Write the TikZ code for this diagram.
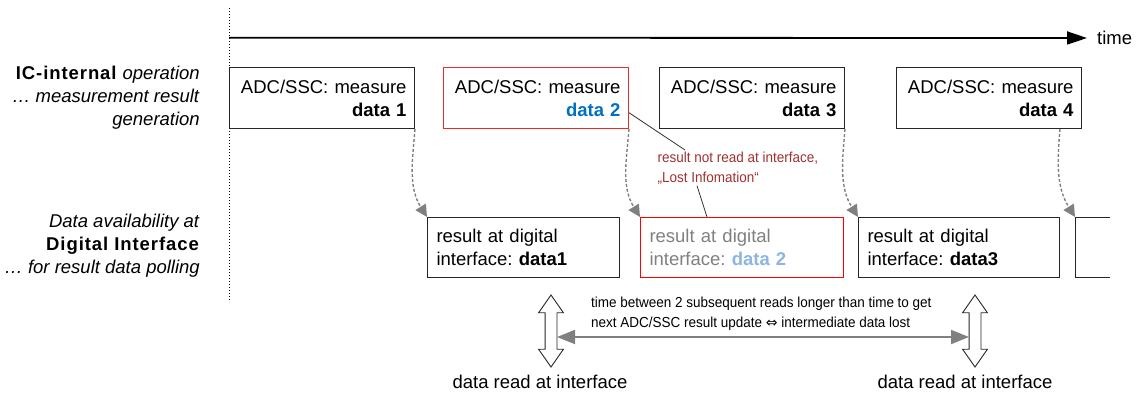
\documentclass[tikz,border=0pt]{standalone}
\usepackage{fontspec}
\setmainfont{Liberation Sans}
\newfontfamily\narrowfont[FakeStretch=0.93]{Liberation Sans}
\newfontfamily\symbfont{DejaVu Sans}
\usetikzlibrary{arrows.meta,shapes.arrows}
\frenchspacing

\definecolor{lostred}{RGB}{236,40,40}
\definecolor{lostbrown}{RGB}{160,48,48}
\definecolor{datablue}{RGB}{0,112,192}
\definecolor{paleblue}{RGB}{141,180,226}
\definecolor{fadegray}{RGB}{128,128,128}

\newcommand{\smalltxt}{\narrowfont\fontsize{14.5}{20}\selectfont}
\newcommand{\wideb}[1]{{\addfontfeature{LetterSpace=5}\textbf{#1}}}

\begin{document}
\begin{tikzpicture}[x=1pt, y=1pt, font=\fontsize{18.5}{23}\selectfont,
  measbox/.style={draw=black!85, line width=1pt, anchor=north west, align=right,
    text width=169pt, inner xsep=8pt, inner ysep=0pt, minimum height=61pt},
  resbox/.style={draw=black!85, line width=1pt, anchor=north west, align=left,
    text width=#1, inner xsep=9pt, inner ysep=0pt, minimum height=60pt},
  polldash/.style={draw=fadegray, line width=1.4pt, dash pattern=on 3pt off 2pt,
    -{Triangle[length=12pt,width=12pt,fill=fadegray]}},
  callout/.style={draw=black!80, line width=0.8pt},
  readarrow/.style={draw=black!85, line width=0.9pt, double arrow, rotate=90,
    minimum height=72pt, inner xsep=0pt, inner ysep=5.5pt,
    double arrow head extend=6.5pt, double arrow tip angle=70}]

  \useasboundingbox (0,0) rectangle (1137,-394);

  % time axis and separator
  \coordinate (vtop) at (229,-8);
  \coordinate (vbot) at (229,-302);
  \draw[dotted, line width=1pt] (vtop) -- (vbot);
  \coordinate (t0) at (229,-37.7);
  \node [anchor=west, inner sep=0pt] (timelbl) at (1097,-38) {time};
  \draw [line width=1.8pt, -{Triangle[length=20pt,width=13pt]}] (t0) -- ([xshift=-10pt]timelbl.west);

  % row labels
  \node [anchor=east, align=right, inner sep=0pt] (icint) at (200,-98)
    {\wideb{IC-internal} \textit{operation}\\\textit{… measurement result}\\\textit{generation}};
  \node [anchor=east, align=right, inner sep=0pt] (digif) at (200,-246)
    {\textit{Data availability at}\\\wideb{Digital Interface}\\\textit{… for result data polling}};

  % measurements
  \node [measbox] (meas1) at (229,-67) {ADC/SSC: measure\\\textbf{data 1}\hspace*{19pt}};
  \node [measbox, draw=lostred] (meas2) at (443,-67) {ADC/SSC: measure\\\textcolor{datablue}{\textbf{data 2}}\hspace*{19pt}};
  \node [measbox] (meas3) at (659,-67) {ADC/SSC: measure\\\textbf{data 3}\hspace*{19pt}};
  \node [measbox] (meas4) at (896,-67) {ADC/SSC: measure\\\textbf{data 4}\hspace*{19pt}};

  % results at interface
  \node [resbox=174pt] (res1) at (427,-217) {result at digital\\interface: \textbf{data1}};
  \node [resbox=185pt, draw=red, text=fadegray] (res2) at (640,-217) {result at digital\\interface: \textcolor{paleblue}{\textbf{data 2}}};
  \node [resbox=183pt] (res3) at (858,-217) {result at digital\\interface: \textbf{data3}};
  \coordinate (res4) at (1075,-217);
  \draw [draw=black!85, line width=1pt] ([xshift=35pt]res4) -- (res4) -- ++(0,-60) -- ++(35,0);

  \path (meas1.south east) edge [polldash, out=-95, in=122] (res1.north west);
  \path (meas2.south east) edge [polldash, out=-95, in=122] (res2.north west);
  \path (meas3.south east) edge [polldash, out=-95, in=122] (res3.north west);
  \path ([xshift=-22pt]meas4.south east) edge [polldash, out=-95, in=122] (res4);

  % lost data note
  \node [anchor=north west, align=left, inner sep=1.5pt, text=lostbrown, font=\smalltxt] (lost) at (656,-150)
    {result not read at interface,\\„Lost Infomation“};
  \draw [callout] (meas2.-9) -- ([xshift=29pt]lost.north west);
  \draw [callout] ([xshift=41pt]lost.south west) -- ([xshift=67pt]res2.north west);

  % reads
  \node [readarrow] (read1) at (551,-331) {};
  \node [readarrow] (read2) at (975,-331) {};
  \draw [draw=fadegray, line width=1.8pt, {Triangle[length=18pt,width=14pt]}-{Triangle[length=18pt,width=14pt]}]
    ([xshift=6pt,yshift=-6pt]read1.center) -- ([xshift=-6pt,yshift=-6pt]read2.center);
  \node [anchor=north west, align=left, inner sep=0pt, font=\smalltxt] (gaptxt) at (591,-297)
    {time between 2 subsequent reads longer than time to get\\next ADC/SSC result update {\symbfont\fontsize{14}{20}\selectfont ⇔} intermediate data lost};
  \node (rdlbl1) at (540,-382) {data read at interface};
  \node (rdlbl2) at (965,-382) {data read at interface};
\end{tikzpicture}
\end{document}
